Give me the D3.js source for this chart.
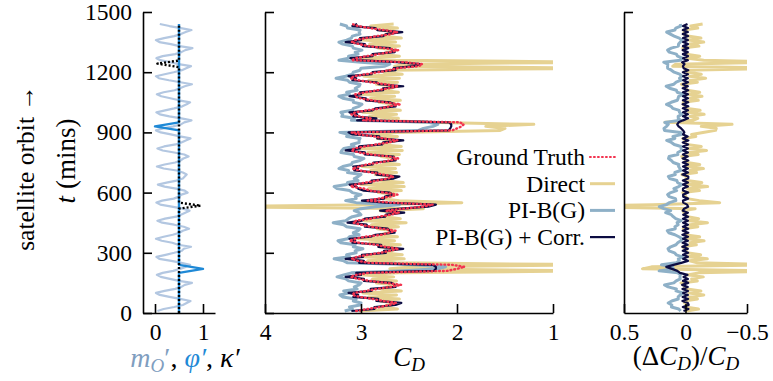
<!DOCTYPE html>
<html>
<head>
<meta charset="utf-8">
<script src="https://cdn.jsdelivr.net/npm/d3@7"></script>
<style>
  body { margin: 0; background: #fff; }
  text { font-family: "Liberation Serif", "Times New Roman", serif; }
</style>
</head>
<body>
<div id="app"></div>
<script>
// sample times along the orbit (mins), one every 10 min
const times = d3.range(10, 1450, 10);

// ground truth drag coefficient
const gt = [
  3.05, 2.93, 2.80, 2.71,
  2.63, 2.77, 2.88, 3.01, 3.09, 3.07, 2.95, 2.83, 2.69,
  2.58, 2.74, 2.91, 3.03, 3.11, 3.05, 2.92, 2.10, 2.00,
  1.92, 2.05, 2.92, 3.03, 3.10, 3.04, 2.93, 2.80, 2.70,
  2.61, 2.75, 2.84, 3.02, 3.12, 3.06, 2.96, 2.78, 2.71,
  2.64, 2.78, 2.90, 3.00, 3.08, 3.05, 2.90, 2.81, 2.69,
  2.60, 2.74, 2.55, 2.35, 2.25, 2.70, 2.93, 2.82, 2.70,
  2.62, 2.76, 2.91, 2.97, 3.11, 3.06, 2.95, 2.83, 2.72,
  2.66, 2.77, 2.89, 3.01, 3.09, 3.02, 2.94, 2.81, 2.70,
  2.61, 2.71, 2.90, 3.02, 3.10, 3.07, 2.96, 2.84, 2.71,
  2.62, 2.77, 2.86, 3.03, 3.10, 2.05, 2.00, 1.95, 1.93,
  1.97, 2.98, 2.90, 3.02, 3.10, 3.06, 2.94, 2.79, 2.70,
  2.59, 2.76, 2.89, 3.01, 3.06, 3.06, 2.95, 2.83, 2.71,
  2.61, 2.75, 2.90, 3.03, 3.11, 3.07, 2.95, 2.82, 2.70,
  2.62, 2.40, 2.36, 2.55, 3.10, 3.05, 2.94, 2.82, 2.70,
  2.61, 2.76, 2.92, 3.02, 3.10, 3.06, 2.95, 2.83, 2.68,
  2.62, 2.77, 2.91, 3.03, 3.09
];

// direct prediction
const direct = [
  3.02, 2.62, 2.80, 2.68,
  2.65, 2.80, 2.60, 2.92, 2.63, 2.98, 2.58, 2.79, 2.71,
  2.62, 2.84, 2.63, 2.88, 2.66, 3.01, 2.61, 0.50, 2.70,
  2.45, 0.50, 2.64, 2.93, 2.55, 2.99, 2.57, 2.77, 2.68,
  2.63, 2.81, 2.59, 2.91, 2.65, 3.03, 2.62, 2.80, 2.70,
  2.66, 2.83, 2.61, 2.89, 2.53, 2.97, 2.59, 2.76, 2.72,
  2.63, 2.80, 2.35, 4.60, 2.85, 1.95, 2.60, 2.78, 2.69,
  2.64, 2.82, 2.58, 2.92, 2.55, 3.00, 2.56, 2.80, 2.71,
  2.62, 2.85, 2.63, 2.90, 2.64, 2.99, 2.60, 2.77, 2.68,
  2.65, 2.79, 2.60, 2.93, 2.57, 3.02, 2.58, 2.81, 2.72,
  2.63, 2.83, 2.62, 2.88, 2.66, 1.55, 1.50, 1.70, 1.20,
  2.30, 2.80, 2.61, 2.91, 2.63, 2.98, 2.59, 2.78, 2.70,
  2.64, 2.81, 2.59, 2.90, 2.65, 3.01, 2.61, 2.79, 2.69,
  2.62, 2.84, 2.62, 2.92, 2.60, 2.97, 2.57, 2.76, 2.71,
  0.50, 2.65, 2.55, 0.50, 2.64, 3.00, 2.60, 2.80, 2.70,
  2.63, 2.82, 2.60, 2.91, 2.64, 2.99, 2.58, 2.78, 2.72,
  2.65, 2.80, 2.62, 2.90, 2.66
];

// PI-B(G)
const pib = [
  3.17, 3.09, 3.12, 3.01,
  3.00, 3.08, 3.05, 3.19, 3.22, 3.13, 3.18, 3.04, 3.07,
  3.02, 3.00, 3.13, 3.16, 3.25, 3.18, 3.10, 2.55, 2.20,
  2.12, 2.45, 3.14, 3.18, 3.28, 3.12, 3.15, 3.05, 3.06,
  2.98, 3.08, 3.06, 3.21, 3.24, 3.14, 3.12, 3.02, 3.08,
  3.03, 3.01, 3.15, 3.18, 3.29, 3.16, 3.13, 3.09, 3.00,
  3.02, 3.07, 3.00, 2.85, 2.60, 3.05, 3.16, 3.05, 3.06,
  3.00, 3.09, 3.12, 3.25, 3.28, 3.15, 3.14, 3.03, 3.07,
  3.03, 3.00, 3.14, 3.13, 3.23, 3.19, 3.10, 3.09, 3.01,
  2.97, 3.07, 3.08, 3.21, 3.20, 3.18, 3.07, 3.10, 3.02,
  3.02, 3.01, 3.15, 3.12, 3.22, 2.40, 2.35, 2.25, 2.20,
  2.30, 3.10, 3.07, 3.20, 3.19, 3.21, 3.09, 3.08, 3.02,
  2.99, 3.08, 3.08, 3.19, 3.23, 3.12, 3.15, 3.04, 3.06,
  3.02, 3.01, 3.12, 3.14, 3.26, 3.16, 3.09, 3.08, 3.01,
  3.00, 2.75, 2.70, 3.00, 3.23, 3.13, 3.13, 3.03, 3.06,
  2.99, 3.08, 3.09, 3.19, 3.23, 3.15, 3.10, 3.09, 3.01,
  3.02, 3.01, 3.14, 3.15, 3.22
];

// PI-B(G) + Corr.
const corr = [
  3.10, 2.86, 2.86, 2.64,
  2.58, 2.84, 2.82, 3.08, 3.03, 3.13, 2.89, 2.90, 2.64,
  2.65, 2.68, 2.97, 2.97, 3.16, 3.00, 3.05, 2.24, 2.22,
  2.22, 2.25, 3.02, 2.97, 3.16, 2.98, 2.99, 2.74, 2.76,
  2.56, 2.82, 2.79, 3.09, 3.06, 3.12, 2.90, 2.85, 2.65,
  2.70, 2.72, 2.96, 2.94, 3.14, 2.99, 2.96, 2.75, 2.74,
  2.55, 2.80, 2.58, 2.30, 2.22, 2.75, 2.99, 2.76, 2.75,
  2.67, 2.70, 2.97, 3.03, 3.05, 3.12, 2.89, 2.89, 2.66,
  2.60, 2.84, 2.83, 3.07, 3.03, 3.08, 2.88, 2.87, 2.64,
  2.67, 2.66, 2.96, 2.96, 3.16, 3.01, 3.02, 2.78, 2.77,
  2.56, 2.83, 2.81, 3.09, 3.13, 2.09, 2.07, 2.06, 2.06,
  2.08, 3.04, 2.84, 3.08, 3.04, 3.12, 2.88, 2.85, 2.64,
  2.65, 2.70, 2.95, 2.95, 3.12, 3.00, 3.01, 2.77, 2.77,
  2.56, 2.81, 2.84, 3.09, 3.05, 3.13, 2.89, 2.88, 2.64,
  2.66, 2.45, 2.38, 2.62, 3.04, 3.11, 2.88, 2.88, 2.65,
  2.67, 2.70, 2.98, 2.96, 3.16, 3.00, 3.01, 2.77, 2.74,
  2.57, 2.83, 2.85, 3.09, 3.04
];

// normalised inputs: m_O' on the same time grid
const mO = [
  0.05, 0.18, 0.40, 0.58,
  0.66, 0.74, 0.52, 0.30, 0.10, 0.02, 0.20, 0.42, 0.55,
  0.62, 0.77, 0.50, 0.31, 0.12, 0.04, 0.16, 0.38, 0.52,
  0.64, 0.73, 0.55, 0.34, 0.09, 0.03, 0.22, 0.40, 0.56,
  0.60, 0.75, 0.48, 0.36, 0.14, 0.02, 0.18, 0.37, 0.51,
  0.58, 0.71, 0.60, 0.40, 0.15, 0.05, 0.21, 0.44, 0.54,
  0.63, 0.72, 0.58, 0.35, 0.11, 0.03, 0.15, 0.39, 0.50,
  0.55, 0.68, 0.62, 0.44, 0.20, 0.06, 0.24, 0.45, 0.58,
  0.62, 0.66, 0.58, 0.45, 0.18, 0.04, 0.20, 0.42, 0.53,
  0.59, 0.70, 0.61, 0.40, 0.16, 0.05, 0.19, 0.43, 0.55,
  0.64, 0.74, 0.52, 0.33, 0.12, 0.02, 0.17, 0.38, 0.54,
  0.61, 0.76, 0.55, 0.30, 0.10, 0.03, 0.21, 0.40, 0.57,
  0.66, 0.73, 0.50, 0.32, 0.13, 0.04, 0.18, 0.41, 0.52,
  0.62, 0.77, 0.53, 0.29, 0.08, 0.02, 0.20, 0.39, 0.56,
  0.65, 0.75, 0.49, 0.31, 0.11, 0.03, 0.16, 0.42, 0.55,
  0.63, 0.78, 0.51, 0.33, 0.09, 0.02, 0.19, 0.40, 0.54,
  0.64, 0.76, 0.54, 0.30, 0.10
];

// phi' and kappa' are flat at 0.5 except a few excursions (breakpoints)
const phiT = [0, 200, 220, 240, 910, 930, 950, 1440];
const phiV = [0.5, 0.5, 1.0, 0.5, 0.5, 0.0, 0.5, 0.5];
const kapT = [0, 520, 535, 550, 1225, 1243, 1258, 1440];
const kapV = [0.5, 0.5, 0.95, 0.5, 0.5, 0.05, 0.5, 0.5];

// ticks
const yTicks = [0, 300, 600, 900, 1200, 1500];
const leftXTicks = [0, 1];
const midXTicks = [4, 3, 2, 1];
const rightXTicks = [0.5, 0, -0.5];
const rightXTickLabels = ["0.5", "0", "\u22120.5"];

const legendNames = ["Ground Truth", "Direct", "PI-B(G)", "PI-B(G) + Corr."];

const col = {
  gt: "#f2334f", direct: "#e6d292", pib: "#8eb0c7", corr: "#0c0c42",
  mO: "#b3c7e1", phi: "#1f89d6", kap: "#000", mOlab: "#7f9ebf"
};

const width = 773, height = 381;
const yTop = 12, yBottom = 313;
const tickFont = 23.5, labelFont = 27;

const svg = d3.select("#app").append("svg")
  .attr("width", width).attr("height", height);

const y = d3.scaleLinear().domain([0, 1500]).range([yBottom, yTop]);
const xL = d3.scaleLinear().domain([-0.25, 1.25]).range([143, 215]);
const xM = d3.scaleLinear().domain([4, 1]).range([265, 553]);
const xR = d3.scaleLinear().domain([0.5, -0.5]).range([624, 747]);

// clip each panel to its frame
const defs = svg.append("defs");
[["clipL", xL], ["clipM", xM], ["clipR", xR]].forEach(([id, sc]) => {
  const r = sc.range();
  defs.append("clipPath").attr("id", id).append("rect")
    .attr("x", r[0]).attr("y", yTop).attr("width", r[1] - r[0]).attr("height", yBottom - yTop);
});

function series(vals, tt) {
  return (tt || times).map((t, i) => ({t: t, v: vals[i]})).filter(d => d.v != null);
}

function drawLine(g, data, xs, color, w, dash, cap) {
  g.append("path")
    .datum(data)
    .attr("fill", "none")
    .attr("stroke", color)
    .attr("stroke-width", w)
    .attr("stroke-linejoin", "round")
    .attr("stroke-linecap", cap || "butt")
    .attr("stroke-dasharray", dash || null)
    .attr("d", d3.line().x(d => xs(d.v)).y(d => y(d.t)));
}

// left panel: inputs
const gL = svg.append("g").attr("clip-path", "url(#clipL)");
drawLine(gL, series(mO), xL, col.mO, 2.2);
drawLine(gL, series(phiV, phiT), xL, col.phi, 2.4);
drawLine(gL, series(kapV, kapT), xL, col.kap, 2.4, "2,2");

// middle panel: C_D
const gM = svg.append("g").attr("clip-path", "url(#clipM)");
drawLine(gM, series(direct), xM, col.direct, 3);
drawLine(gM, series(pib), xM, col.pib, 3);
drawLine(gM, series(corr), xM, col.corr, 2.2);
drawLine(gM, series(gt), xM, col.gt, 2.4, "0.8,3", "round");

// right panel: relative error (pred - truth) / truth
const rel = arr => arr.map((v, i) => (v - gt[i]) / gt[i]);
const gR = svg.append("g").attr("clip-path", "url(#clipR)");
drawLine(gR, series(rel(direct)), xR, col.direct, 3);
drawLine(gR, series(rel(pib)), xR, col.pib, 3);
drawLine(gR, series(rel(corr)), xR, col.corr, 2.2);

// axes
function styleAxis(g) {
  g.attr("font-size", tickFont).attr("font-family", "Liberation Serif, serif");
  g.selectAll("path.domain").attr("stroke", "#000").attr("stroke-width", 1.6);
  g.selectAll(".tick line").attr("stroke", "#000").attr("stroke-width", 1.6);
  g.selectAll(".tick text").attr("fill", "#000");
}

svg.append("g").attr("transform", "translate(143,0)")
  .call(d3.axisLeft(y).tickValues(yTicks).tickFormat(d3.format("d")).tickSizeInner(-9).tickSizeOuter(0).tickPadding(11))
  .call(styleAxis);
svg.append("g").attr("transform", "translate(265,0)")
  .call(d3.axisLeft(y).tickValues(yTicks).tickFormat("").tickSizeInner(-9).tickSizeOuter(0))
  .call(styleAxis);
svg.append("g").attr("transform", "translate(624,0)")
  .call(d3.axisLeft(y).tickValues([1500]).tickFormat("").tickSizeInner(-9).tickSizeOuter(0))
  .call(styleAxis);

svg.append("g").attr("transform", `translate(0,${yBottom})`)
  .call(d3.axisBottom(xL).tickValues(leftXTicks).tickFormat(d3.format("d")).tickSizeInner(-9).tickSizeOuter(0).tickPadding(10))
  .call(styleAxis);
svg.append("g").attr("transform", `translate(0,${yBottom})`)
  .call(d3.axisBottom(xM).tickValues(midXTicks).tickFormat(d3.format("d")).tickSizeInner(-9).tickSizeOuter(0).tickPadding(10))
  .call(styleAxis);
svg.append("g").attr("transform", `translate(0,${yBottom})`)
  .call(d3.axisBottom(xR).tickValues(rightXTicks).tickFormat((d, i) => rightXTickLabels[i]).tickSizeInner(-9).tickSizeOuter(0).tickPadding(10))
  .call(styleAxis);

// axis titles
svg.append("text")
  .attr("transform", "translate(34,168) rotate(-90)")
  .attr("text-anchor", "middle").attr("font-size", 25.5)
  .text("satellite orbit \u2192");

const tl = svg.append("text")
  .attr("transform", "translate(75,161) rotate(-90)")
  .attr("text-anchor", "middle").attr("font-size", labelFont);
tl.append("tspan").attr("font-style", "italic").text("t");
tl.append("tspan").text(" (mins)");

const subSize = 19, subDy = 5;

const xl = svg.append("text").attr("x", 185).attr("y", 367)
  .attr("text-anchor", "middle").attr("font-size", 28);
xl.append("tspan").attr("font-style", "italic").attr("fill", col.mOlab).text("m");
xl.append("tspan").attr("font-style", "italic").attr("fill", col.mOlab).attr("font-size", subSize).attr("dy", subDy).text("O");
xl.append("tspan").attr("fill", col.mOlab).attr("dy", -subDy).text("\u2032");
xl.append("tspan").text(", ");
xl.append("tspan").attr("font-style", "italic").attr("fill", col.phi).text("\u03c6\u2032");
xl.append("tspan").text(", ");
xl.append("tspan").attr("font-style", "italic").text("\u03ba\u2032");

const xm = svg.append("text").attr("x", 409).attr("y", 366)
  .attr("text-anchor", "middle").attr("font-size", labelFont);
xm.append("tspan").attr("font-style", "italic").text("C");
xm.append("tspan").attr("font-style", "italic").attr("font-size", subSize).attr("dy", subDy).text("D");

const xr = svg.append("text").attr("x", 686).attr("y", 365)
  .attr("text-anchor", "middle").attr("font-size", labelFont);
xr.append("tspan").text("(\u0394");
xr.append("tspan").attr("font-style", "italic").text("C");
xr.append("tspan").attr("font-style", "italic").attr("font-size", subSize).attr("dy", subDy).text("D");
xr.append("tspan").attr("dy", -subDy).text(")/");
xr.append("tspan").attr("font-style", "italic").text("C");
xr.append("tspan").attr("font-style", "italic").attr("font-size", subSize).attr("dy", subDy).text("D");

// legend
const legendStyle = [
  {c: col.gt, w: 2.2, dash: "0.8,3.2", cap: "round"},
  {c: col.direct, w: 3},
  {c: col.pib, w: 3},
  {c: col.corr, w: 2.2}
];
const leg = svg.append("g").attr("transform", "translate(585,157)");
legendNames.forEach((name, i) => {
  const row = leg.append("g").attr("transform", `translate(0,${i * 26.7})`);
  row.append("text").attr("x", 0).attr("y", 8).attr("text-anchor", "end")
    .attr("font-size", tickFont).text(name);
  row.append("line").attr("x1", 5).attr("x2", 30).attr("y1", 0).attr("y2", 0)
    .attr("stroke", legendStyle[i].c).attr("stroke-width", legendStyle[i].w)
    .attr("stroke-linecap", legendStyle[i].cap || "butt")
    .attr("stroke-dasharray", legendStyle[i].dash || null);
});
</script>
</body>
</html>
